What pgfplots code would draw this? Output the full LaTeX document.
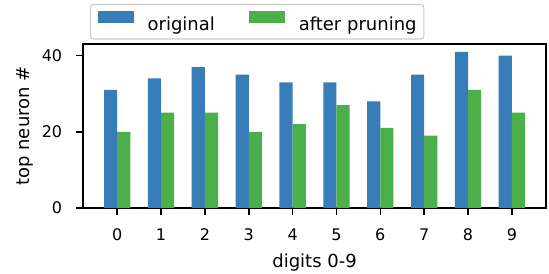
\documentclass[border=0pt]{standalone}
\usepackage{fontspec}
\setmainfont{DejaVu Sans}
\usepackage{pgfplots}
\pgfplotsset{compat=1.18}
\definecolor{cblue}{RGB}{55,126,184}
\definecolor{cgreen}{RGB}{77,175,74}
\begin{document}
\begin{tikzpicture}
\begin{axis}[
  at={(0,0)}, anchor=south west,
  scale only axis, width=333.4pt, height=118.1pt,
  xmin=-0.78, xmax=9.78, ymin=0, ymax=43.05,
  xtick={0,...,9}, ytick={0,20,40},
  minor tick num=0,
  tick align=outside, major tick length=5pt,
  tick style={black, line width=1.15pt},
  axis line style={black, line width=1.15pt},
  xtick pos=bottom, ytick pos=left,
  /pgf/number format/assume math mode=true,
  font=\fontsize{12.96}{15.5}\selectfont,
  ticklabel style={font=\fontsize{11.52}{13.8}\selectfont},
  xticklabel style={anchor=base, yshift=-18.5pt},
  yticklabel style={anchor=east, xshift=-6.5pt},
  xlabel={digits 0-9}, ylabel={top neuron \#},
  label style={font=\fontsize{12.96}{15.5}\selectfont},
  xlabel style={at={(axis description cs:0.5,0)}, anchor=base, yshift=-42.5pt},
  ylabel style={at={(axis description cs:-0.1254,0.5)}, anchor=center},
  ybar, bar width=0.3,
  legend columns=2,
  legend cell align=left,
  legend image code/.code={\fill[#1, sharp corners] (0pt,0.85pt) rectangle (25.9pt,9.92pt);},
  legend style={at={(axis description cs:0.0151,1.2439)}, anchor=north west,
    draw=black!20, line width=0.8pt, rounded corners=2pt,
    font=\fontsize{12.96}{15.5}\selectfont,
    inner xsep=5.2pt, inner ysep=4.6pt,
    nodes={inner sep=0pt},
    /tikz/every odd column/.append style={column sep=10pt},
    /tikz/every even column/.append style={column sep=24.5pt}},
]
\addplot[fill=cblue, draw=none, bar shift=-0.15] coordinates {
 (0,31) (1,34) (2,37) (3,35) (4,33) (5,33) (6,28) (7,35) (8,41) (9,40)};
\addplot[fill=cgreen, draw=none, bar shift=0.15] coordinates {
 (0,20) (1,25) (2,25) (3,20) (4,22) (5,27) (6,21) (7,19) (8,31) (9,25)};
\legend{original, after pruning}
\end{axis}
\pgfresetboundingbox
\path[use as bounding box] (-59.76pt,-47.52pt) rectangle (335.52pt,149.76pt);
\end{tikzpicture}
\end{document}
